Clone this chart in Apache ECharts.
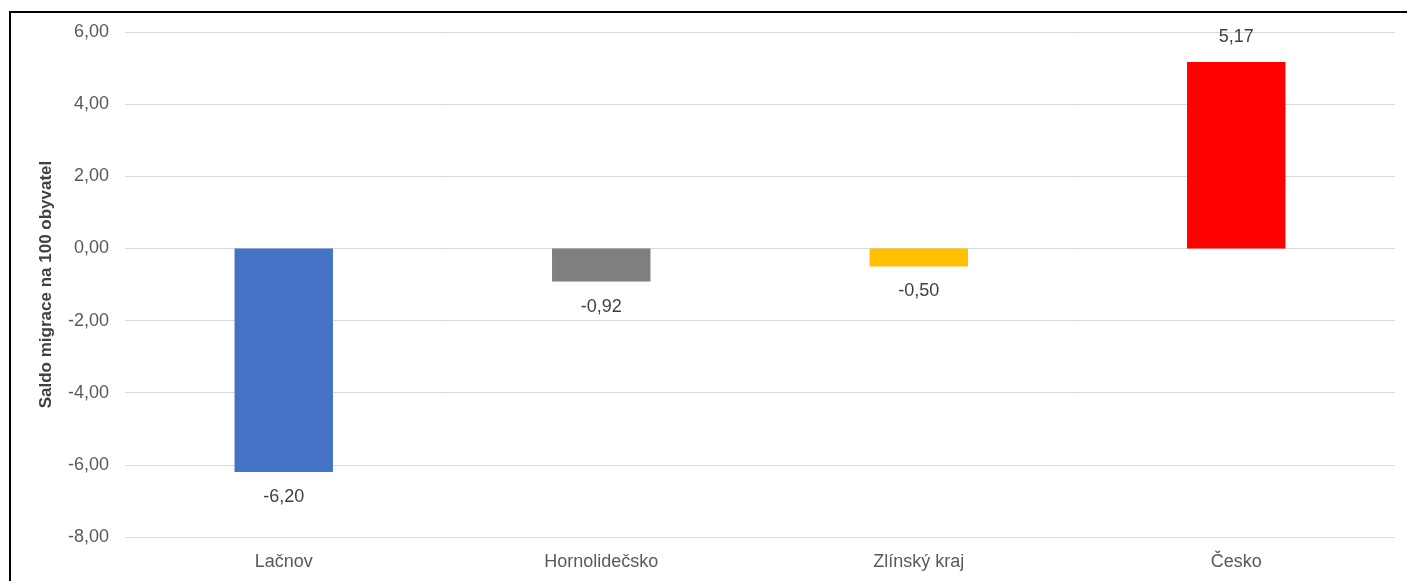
<!DOCTYPE html>
<html>
<head>
<meta charset="utf-8">
<script src="https://cdn.jsdelivr.net/npm/echarts@6/dist/echarts.min.js"></script>
<style>
  html, body { margin: 0; padding: 0; background: #fff; width: 1407px; height: 581px; overflow: hidden; }
  #frame { position: absolute; left: 9px; top: 11px; width: 1420px; height: 600px; border-left: 2px solid #000; border-top: 2px solid #000; }
  #chart { position: absolute; left: 0; top: 0; width: 1407px; height: 581px; }
</style>
</head>
<body>
<div id="frame"></div>
<div id="chart"></div>
<script>
const categories = ['Lačnov', 'Hornolidečsko', 'Zlínský kraj', 'Česko'];
const values = [-6.20, -0.92, -0.50, 5.17];
const barColors = ['#4472C4', '#7F7F7F', '#FFC000', '#FF0000'];
const axisName = 'Saldo migrace na 100 obyvatel';

const fmt = v => v.toFixed(2).replace('.', ',');
const FONT = 'Liberation Sans, Arial, sans-serif';

const chart = echarts.init(document.getElementById('chart'), null, { renderer: 'canvas' });
chart.setOption({
  animation: false,
  backgroundColor: 'transparent',
  grid: { left: 125, right: 12, top: 32, bottom: 44, containLabel: false },
  xAxis: {
    type: 'category',
    data: categories,
    axisLine: { show: false, onZero: false },
    axisTick: { show: false },
    axisLabel: { color: '#595959', fontSize: 18, fontFamily: FONT, margin: 16 },
    splitLine: { show: false }
  },
  yAxis: {
    type: 'value',
    min: -8, max: 6, interval: 2,
    name: axisName,
    nameLocation: 'middle',
    nameGap: 70,
    nameTextStyle: { color: '#404040', fontSize: 17, fontWeight: 'bold', fontFamily: FONT },
    axisLine: { show: false },
    axisTick: { show: false },
    axisLabel: { color: '#595959', fontSize: 18, fontFamily: FONT, margin: 16, formatter: v => fmt(v) },
    splitLine: { lineStyle: { color: '#d9d9d9', width: 1 } }
  },
  series: [{
    type: 'bar',
    barWidth: '31%',
    data: values.map((v, i) => ({
      value: v,
      itemStyle: { color: barColors[i] },
      label: { position: v >= 0 ? 'top' : 'bottom' }
    })),
    label: {
      show: true,
      distance: 16,
      color: '#404040',
      fontSize: 18,
      fontFamily: FONT,
      formatter: p => fmt(p.value)
    }
  }]
});
</script>
</body>
</html>
